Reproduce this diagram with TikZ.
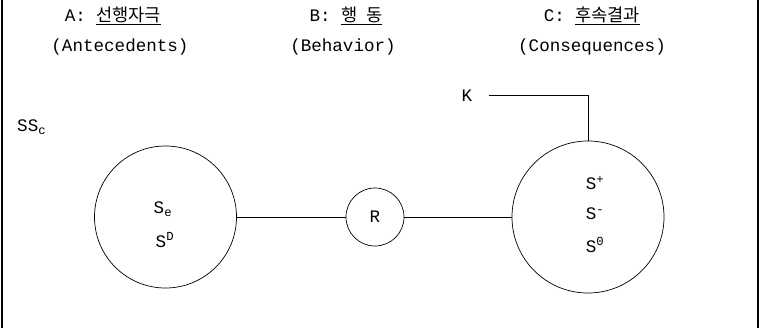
\documentclass[tikz,border=0pt]{standalone}
\usepackage{fontspec}
\setmainfont{Liberation Mono}
\newfontfamily\kfont{Noto Sans CJK KR}
\begin{document}
\begin{tikzpicture}[x=0.03cm, y=-0.03cm, font=\fontsize{15}{18}\selectfont]
    \tikzset{
        ring/.style={draw, circle, line width=0.6pt, inner sep=0pt},
        txt/.style={inner sep=0pt}
    }
    \useasboundingbox (0,0) rectangle (760,328);

    % Frame
    \draw[line width=1pt] (2,0) -- (2,328);
    \draw[line width=1pt] (758,0) -- (758,328);

    % Headings
    \node[txt] (headA) at (113,16) {A: \underline{\kfont 선행자극}};
    \node[txt] (nameA) at (120,47) {(Antecedents)};
    \node[txt] (headB) at (346,16) {B: \underline{\kfont 행\hspace{0.5em}동}};
    \node[txt] (nameB) at (343,47) {(Behavior)};
    \node[txt] (headC) at (592,16) {C: \underline{\kfont 후속결과}};
    \node[txt] (nameC) at (592,47) {(Consequences)};

    \node[txt, anchor=west] (ssc) at (17,127) {SS\textsubscript{c}};

    % Circles
    \node[ring, minimum size=4.26cm] (antecedent) at (165.5,217) {};
    \node[ring, minimum size=1.74cm] (behavior) at (375,217) {R};
    \node[ring, minimum size=4.56cm] (consequence) at (588,217) {};

    \node[txt] (se) at (163,209) {S\textsubscript{e}};
    \node[txt] (sd) at (165,240) {S\textsuperscript{D}};
    \node[txt] (splus) at (595,183) {S\textsuperscript{+}};
    \node[txt] (sminus) at (595,214) {S\textsuperscript{-}};
    \node[txt] (szero) at (595,245) {S\textsuperscript{0}};

    % Connectors
    \draw[line width=0.6pt] (antecedent.east) -- (behavior.west);
    \draw[line width=0.6pt] (behavior.east) -- (consequence.west);

    \node[txt] (k) at (467,96) {K};
    \coordinate (kbend) at (consequence.north |- 0,95);
    \draw[line width=0.6pt] (489,95) -- (kbend) -- (consequence.north);
\end{tikzpicture}
\end{document}
